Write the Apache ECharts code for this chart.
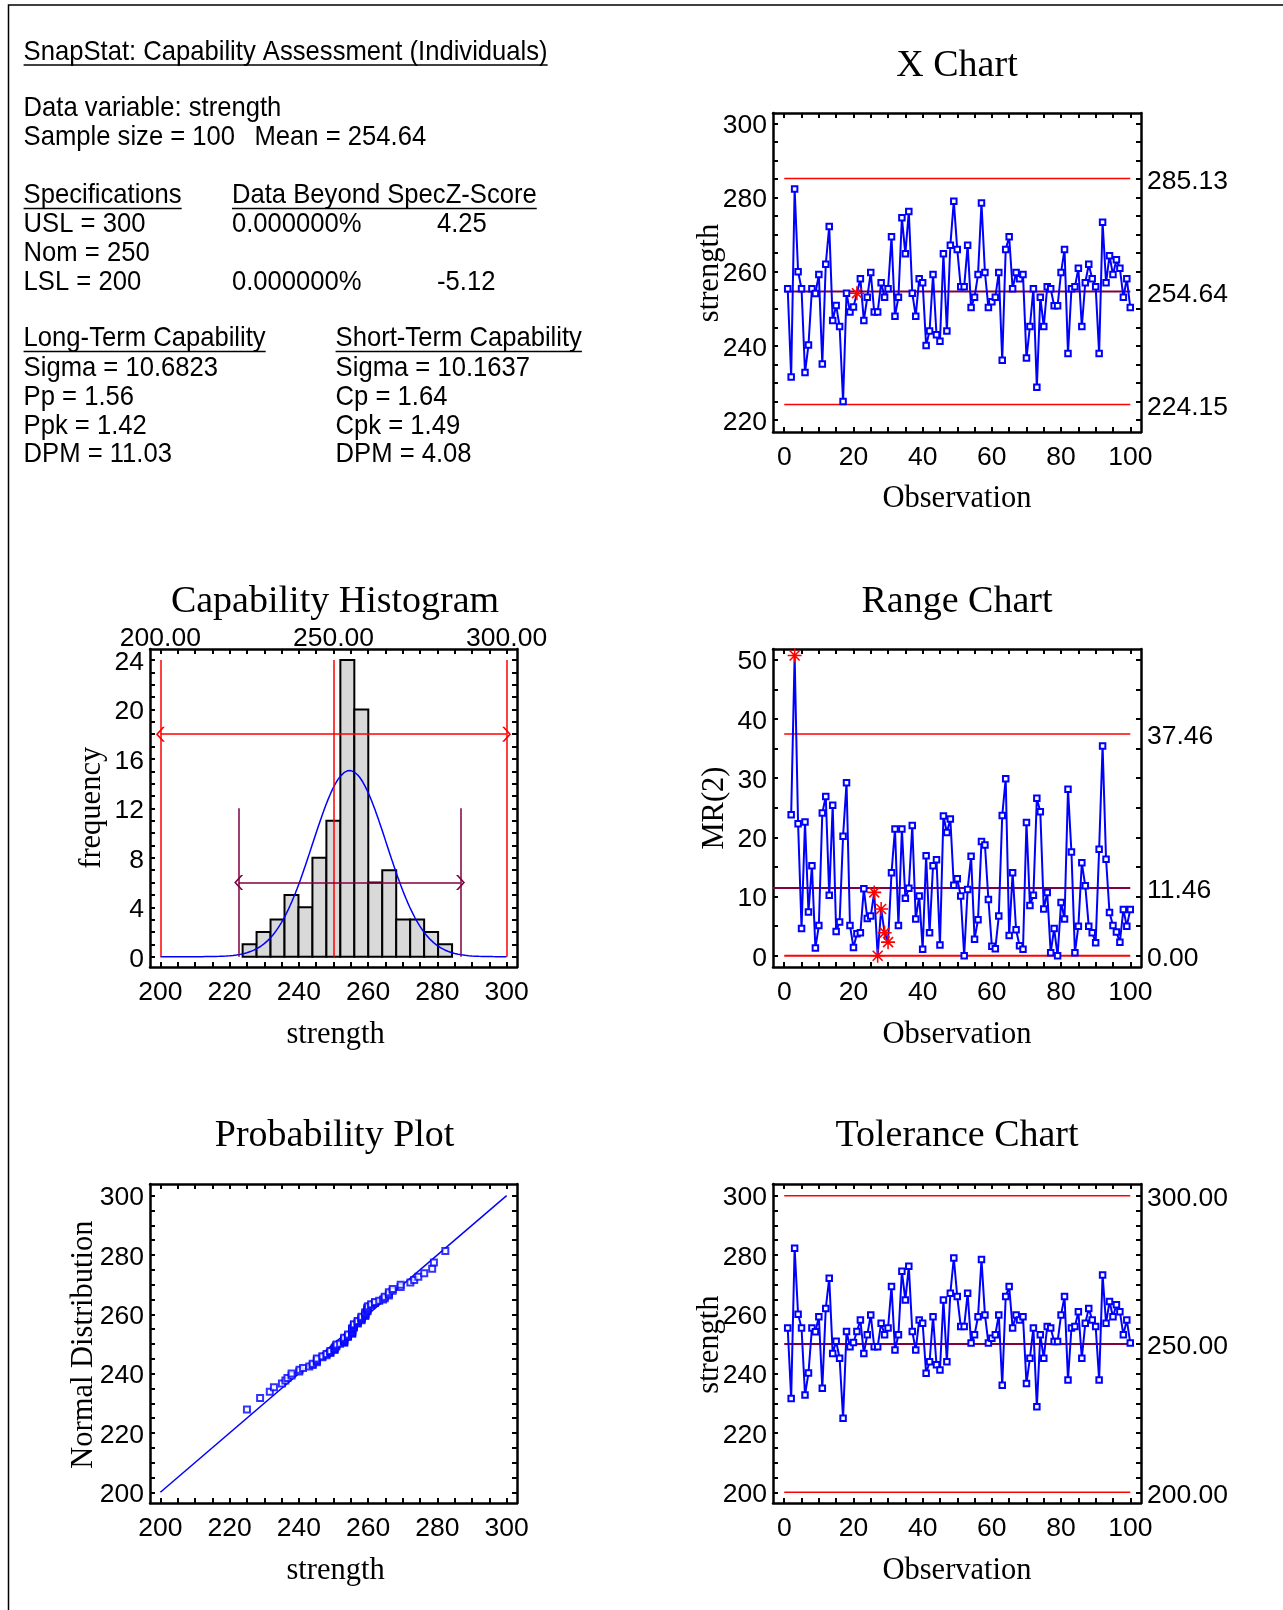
<!DOCTYPE html>
<html>
<head>
<meta charset="utf-8">
<script src="https://cdn.jsdelivr.net/npm/echarts@6/dist/echarts.min.js"></script>
<style>
  html, body { margin: 0; padding: 0; background: #fff; }
  #main { width: 1283px; height: 1610px; }
</style>
</head>
<body>
<div id="main"></div>
<script>
var strength = [
  255.4, 231.6, 282.3, 260.0, 255.4, 232.8, 240.2, 255.4, 254.1, 259.2,
  235.1, 262.0, 272.2, 246.8, 250.9, 245.2, 225.0, 254.2, 249.1, 250.5,
  254.2, 258.1, 246.8, 253.1, 259.8, 249.1, 249.1, 257.0, 253.1, 255.4,
  269.4, 248.0, 253.1, 274.5, 264.8, 276.2, 254.2, 248.0, 258.1, 257.0,
  240.1, 244.0, 259.2, 243.0, 241.2, 264.8, 244.0, 267.1, 279.0, 266.0,
  255.9, 255.9, 267.1, 250.3, 253.1, 259.2, 278.5, 259.8, 250.3, 251.9,
  253.1, 259.8, 236.1, 266.0, 269.4, 255.4, 259.8, 258.1, 259.2, 236.7,
  245.2, 255.4, 228.8, 253.1, 245.2, 255.9, 255.4, 250.8, 250.8, 259.8,
  266.0, 237.9, 255.4, 255.9, 260.9, 245.2, 257.0, 262.0, 258.1, 255.9,
  237.9, 273.3, 257.0, 264.3, 259.2, 263.2, 260.9, 253.1, 258.1, 250.3
];

// flagged observations (red stars)
var xFlagged = [21];
var mrFlagged = [3, 26, 27, 28, 29, 30];

// histogram
var histFreq = [1, 2, 3, 5, 4, 8, 11, 24, 20, 6, 7, 3, 3, 2, 1];
var histStart = 223.75;
var histWidth = 4.033;

// specification & statistics
var USL = 300, NOM = 250, LSL = 200;
var MEAN = 254.64, SIGMA_LT = 10.6823;
var UCL = 285.13, LCL = 224.15;
var MR_UCL = 37.46, MR_CL = 11.46, MR_LCL = 0;

// tick labels
var obsLabels = [0, 20, 40, 60, 80, 100];
var strengthLabels = [220, 240, 260, 280, 300];
var tolLabels = [200, 220, 240, 260, 280, 300];
var mrLabels = [0, 10, 20, 30, 40, 50];
var freqLabels = [0, 4, 8, 12, 16, 20, 24];
var specLabels = [200, 220, 240, 260, 280, 300];

var SANS = '"Liberation Sans", Arial, sans-serif';
var SERIF = '"Liberation Serif", "Times New Roman", serif';
var BLUE = '#0000ff', RED = '#ff0000', MAROON = '#800040';
var STAR = 'path://M-1.1,-10L1.1,-10L1.1,10L-1.1,10Z M-10,-1.1L10,-1.1L10,1.1L-10,1.1Z M-7.9,-6.3L-6.3,-7.9L7.9,6.3L6.3,7.9Z M6.3,-7.9L7.9,-6.3L-6.3,7.9L-7.9,6.3Z';
var CHEVRON = 'path://M0,0L10,8L10,10.5L0,2.5L-10,10.5L-10,8Z';
var TICK_FS = 26.5;

function steps(a, b, s) {
  var r = [];
  for (var v = a; v <= b + 1e-9; v += s) r.push(+v.toFixed(6));
  return r;
}
function fix2(v) { return Number(v).toFixed(2); }

function normInv(p) {
  var q = p < 0.5 ? p : 1 - p;
  var t = Math.sqrt(-2 * Math.log(q));
  var z = t - (2.515517 + 0.802853 * t + 0.010328 * t * t) /
    (1 + 1.432788 * t + 0.189269 * t * t + 0.001308 * t * t * t);
  return p < 0.5 ? -z : z;
}

var xAxes = [], yAxes = [];
function frameAxes(gi, xr, yr, o) {
  function line() { return { show: true, onZero: false, lineStyle: { color: '#000', width: 2.5 } }; }
  function tick(vals) { return { show: true, inside: true, length: 5, lineStyle: { color: '#000', width: 2 }, customValues: vals }; }
  function lab(vals, margin, fmt, shift) {
    if (!vals) return { show: false };
    var l = { show: true, customValues: vals, margin: margin, fontSize: TICK_FS, fontFamily: SANS, color: '#000' };
    if (shift) {
      l.formatter = function (v) { return '{a|' + (fmt ? fmt(v) : v) + '}'; };
      l.rich = { a: { fontSize: TICK_FS, fontFamily: SANS, color: '#000', padding: [shift, 0, 0, 0] } };
    } else if (fmt) l.formatter = fmt;
    return l;
  }
  xAxes.push({ type: 'value', gridIndex: gi, position: 'bottom', min: xr[0], max: xr[1],
    axisLine: line(), axisTick: tick(o.xTicks), axisLabel: lab(o.xLabels, 12.5), splitLine: { show: false } });
  xAxes.push({ type: 'value', gridIndex: gi, position: 'top', min: xr[0], max: xr[1],
    axisLine: line(), axisTick: tick(o.xTicks), axisLabel: lab(o.topLabels, -3, fix2), splitLine: { show: false } });
  yAxes.push({ type: 'value', gridIndex: gi, position: 'left', min: yr[0], max: yr[1],
    axisLine: line(), axisTick: tick(o.yTicks), axisLabel: lab(o.yLabels, 6, null, 5), splitLine: { show: false } });
  yAxes.push({ type: 'value', gridIndex: gi, position: 'right', min: yr[0], max: yr[1],
    axisLine: line(), axisTick: tick(o.yTicks), axisLabel: lab(o.rightLabels, 6, fix2, 6), splitLine: { show: false } });
}

var OBS = [-3.25, 103.1];
var SPEC = [197, 303];
frameAxes(0, OBS, [216.76, 302.78], { xTicks: steps(0, 100, 5), xLabels: obsLabels,
  yTicks: steps(220, 300, 5), yLabels: strengthLabels, rightLabels: [LCL, MEAN, UCL] });
frameAxes(1, SPEC, [-0.833, 24.89], { xTicks: steps(200, 300, 5), xLabels: specLabels,
  topLabels: [LSL, NOM, USL], yTicks: steps(0, 24, 1), yLabels: freqLabels });
frameAxes(2, OBS, [-1.9, 51.8], { xTicks: steps(0, 100, 5), xLabels: obsLabels,
  yTicks: steps(0, 50, 5), yLabels: mrLabels, rightLabels: [MR_LCL, MR_CL, MR_UCL] });
frameAxes(3, SPEC, [196.39, 303.94], { xTicks: steps(200, 300, 5), xLabels: specLabels,
  yTicks: steps(200, 300, 5), yLabels: tolLabels });
frameAxes(4, OBS, [196.39, 303.94], { xTicks: steps(0, 100, 5), xLabels: obsLabels,
  yTicks: steps(200, 300, 5), yLabels: tolLabels, rightLabels: [LSL, NOM, USL] });

// derived series
var starStyle = { color: RED, borderColor: RED, borderWidth: 0 };
var xData = strength.map(function (v, i) {
  if (xFlagged.indexOf(i + 1) >= 0)
    return { value: [i + 1, v], symbol: STAR, symbolSize: 14, itemStyle: starStyle };
  return [i + 1, v];
});
var mrData = [];
for (var i = 1; i < strength.length; i++) {
  var mr = Math.abs(strength[i] - strength[i - 1]);
  if (mrFlagged.indexOf(i + 1) >= 0)
    mrData.push({ value: [i + 1, mr], symbol: STAR, symbolSize: 14, itemStyle: starStyle });
  else mrData.push([i + 1, mr]);
}
var tolData = strength.map(function (v, i) { return [i + 1, v]; });
var histData = histFreq.map(function (f, i) {
  return [histStart + i * histWidth, histStart + (i + 1) * histWidth, f];
});
var curve = [];
for (var x = 200; x <= 300.001; x += 0.5) {
  var z = (x - MEAN) / SIGMA_LT;
  curve.push([x, strength.length * histWidth * Math.exp(-0.5 * z * z) / (SIGMA_LT * Math.sqrt(2 * Math.PI))]);
}
var sorted = strength.slice().sort(function (a, b) { return a - b; });
var probData = sorted.map(function (v, i) {
  return [v, MEAN + SIGMA_LT * normInv((i + 1 - 0.375) / (sorted.length + 0.25))];
});

function hline(gi, y, x0, x1, color, w) {
  return { type: 'line', xAxisIndex: 2 * gi, yAxisIndex: 2 * gi, data: [[x0, y], [x1, y]],
    symbol: 'none', silent: true, z: 1, lineStyle: { color: color, width: w } };
}
function dataLine(gi, data) {
  return { type: 'line', xAxisIndex: 2 * gi, yAxisIndex: 2 * gi, data: data, z: 3,
    symbol: 'emptyRect', symbolSize: 5.5, showAllSymbol: true,
    itemStyle: { color: BLUE, borderColor: BLUE, borderWidth: 2 },
    lineStyle: { color: BLUE, width: 2 } };
}
function seg(x0, y0, x1, y1, color, arrows) {
  var a = { coord: [x0, y0] }, b = { coord: [x1, y1] };
  if (arrows) { a.symbol = CHEVRON; b.symbol = CHEVRON; a.symbolSize = [15, 9]; b.symbolSize = [15, 9]; }
  a.lineStyle = { color: color, width: 1.5, type: 'solid' };
  return [a, b];
}

var series = [
  // X chart
  hline(0, UCL, 0, 100, RED, 1.5),
  hline(0, LCL, 0, 100, RED, 1.5),
  hline(0, MEAN, 0, 100, MAROON, 2),
  dataLine(0, xData),
  // histogram
  {
    type: 'custom', xAxisIndex: 2, yAxisIndex: 2, data: histData, z: 2,
    encode: { x: [0, 1], y: 2 },
    renderItem: function (params, api) {
      var p0 = api.coord([api.value(0), 0]);
      var p1 = api.coord([api.value(1), api.value(2)]);
      return { type: 'rect', shape: { x: p0[0], y: p1[1], width: p1[0] - p0[0], height: p0[1] - p1[1] },
        style: { fill: '#d9d9d9', stroke: '#000', lineWidth: 2 } };
    }
  },
  {
    type: 'line', xAxisIndex: 2, yAxisIndex: 2, data: curve, symbol: 'none', z: 3,
    lineStyle: { color: BLUE, width: 1.5 },
    markLine: {
      silent: true, symbol: 'none', label: { show: false }, animation: false,
      data: [
        seg(LSL, 0, LSL, 24, RED), seg(NOM, 0, NOM, 24, RED), seg(USL, 0, USL, 24, RED),
        seg(LSL, 18, USL, 18, RED, true),
        seg(MEAN - 3 * SIGMA_LT, 0, MEAN - 3 * SIGMA_LT, 12, MAROON),
        seg(MEAN + 3 * SIGMA_LT, 0, MEAN + 3 * SIGMA_LT, 12, MAROON),
        seg(MEAN - 3 * SIGMA_LT, 6, MEAN + 3 * SIGMA_LT, 6, MAROON, true)
      ]
    }
  },
  // range chart
  hline(2, MR_UCL, 0, 100, RED, 1.5),
  hline(2, MR_LCL, 0, 100, RED, 2),
  hline(2, MR_CL, OBS[0], 100, MAROON, 2),
  dataLine(2, mrData),
  // probability plot
  { type: 'line', xAxisIndex: 6, yAxisIndex: 6, data: [[200, 200], [300, 300]], symbol: 'none', z: 2,
    lineStyle: { color: BLUE, width: 1.5 } },
  { type: 'scatter', xAxisIndex: 6, yAxisIndex: 6, data: probData, z: 3, symbol: 'emptyRect', symbolSize: 6,
    itemStyle: { color: BLUE, borderColor: BLUE, borderWidth: 1.3 } },
  // tolerance chart
  hline(4, USL, 0, 100, RED, 1.5),
  hline(4, LSL, 0, 100, RED, 1.5),
  hline(4, NOM, 0, 100, MAROON, 2),
  dataLine(4, tolData)
];

// text helpers
var FS = 28, SX = 0.915;
var measure = document.createElement('canvas').getContext('2d');
measure.font = FS + 'px ' + SANS;
var graphic = [
  { type: 'rect', shape: { x: 8.5, y: 5, width: 1400, height: 1700 }, style: { fill: 'none', stroke: '#000', lineWidth: 1.5 }, silent: true }
];
function txt(s, x, y, underline) {
  graphic.push({ type: 'text', x: x, y: y, scaleX: SX, silent: true,
    style: { text: s, fontSize: FS, fontFamily: SANS, fill: '#000', align: 'left', verticalAlign: 'middle' } });
  if (underline) {
    var w = measure.measureText(s).width * SX;
    graphic.push({ type: 'line', silent: true, shape: { x1: x, y1: y + 13, x2: x + w, y2: y + 13 },
      style: { stroke: '#000', lineWidth: 1.5 } });
  }
}
function serif(s, x, y, size, rot) {
  graphic.push({ type: 'text', x: x, y: y, rotation: rot ? Math.PI / 2 : 0, silent: true,
    style: { text: s, fontSize: size, fontFamily: SERIF, fill: '#000', align: 'center', verticalAlign: 'middle' } });
}

txt('SnapStat: Capability Assessment (Individuals)', 23.6, 52, true);
txt('Data variable: strength', 23.6, 108.5);
txt('Sample size = 100', 23.6, 137.5);
txt('Mean = ' + MEAN.toFixed(2), 254.5, 137.5);
txt('Specifications', 23.6, 195.5, true);
txt('Data Beyond SpecZ-Score', 232, 195.5, true);
txt('USL = ' + USL, 23.6, 224.5);
txt('0.000000%', 232, 224.5);
txt('4.25', 437, 224.5);
txt('Nom = ' + NOM, 23.6, 253.3);
txt('LSL = ' + LSL, 23.6, 282);
txt('0.000000%', 232, 282);
txt('-5.12', 437, 282);
txt('Long-Term Capability', 23.6, 338.5, true);
txt('Short-Term Capability', 335.6, 338.5, true);
txt('Sigma = 10.6823', 23.6, 368.4);
txt('Sigma = 10.1637', 335.6, 368.4);
txt('Pp = 1.56', 23.6, 397.2);
txt('Cp = 1.64', 335.6, 397.2);
txt('Ppk = 1.42', 23.6, 425.9);
txt('Cpk = 1.49', 335.6, 425.9);
txt('DPM = 11.03', 23.6, 454.6);
txt('DPM = 4.08', 335.6, 454.6);

serif('X Chart', 957, 66, 38);
serif('Capability Histogram', 335, 602, 38);
serif('Range Chart', 957, 602, 38);
serif('Probability Plot', 334.6, 1136.5, 38);
serif('Tolerance Chart', 957, 1136.5, 38);
serif('Observation', 957, 498.5, 30.5);
serif('Observation', 957, 1034.5, 30.5);
serif('Observation', 957, 1571.3, 30.5);
serif('strength', 335.6, 1034.5, 30.5);
serif('strength', 335.6, 1571.3, 30.5);
serif('strength', 710, 273, 30.5, true);
serif('frequency', 92.3, 807.8, 30.5, true);
serif('MR(2)', 715, 808, 30.5, true);
serif('Normal Distribution', 84, 1344.6, 30.5, true);
serif('strength', 710, 1344.6, 30.5, true);

var myChart = echarts.init(document.getElementById('main'));
var option = {
  animation: false,
  backgroundColor: '#fff',
  grid: [
    { left: 773, top: 113, width: 368, height: 319, outerBoundsMode: 'none' },
    { left: 150, top: 649, width: 367, height: 318, outerBoundsMode: 'none' },
    { left: 773, top: 649, width: 368, height: 318, outerBoundsMode: 'none' },
    { left: 150, top: 1184, width: 367, height: 319, outerBoundsMode: 'none' },
    { left: 773, top: 1184, width: 368, height: 319, outerBoundsMode: 'none' }
  ],
  xAxis: xAxes,
  yAxis: yAxes,
  series: series,
  graphic: graphic
};
myChart.setOption(option);
</script>
</body>
</html>
